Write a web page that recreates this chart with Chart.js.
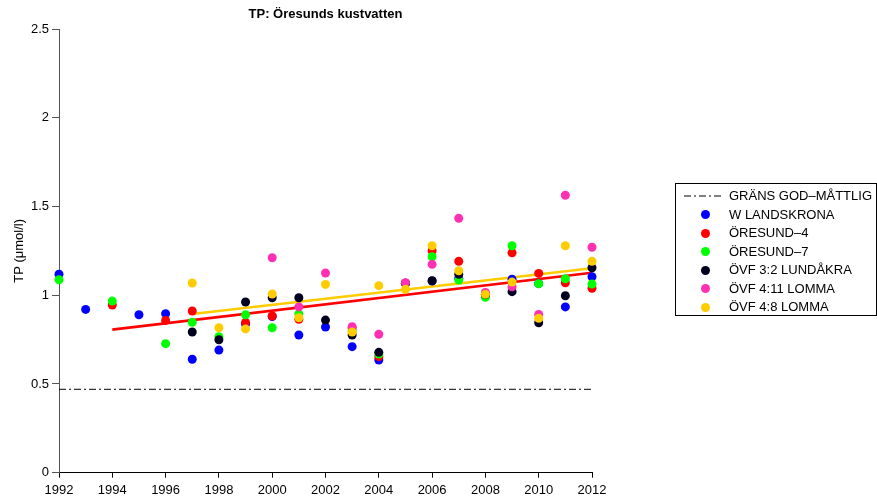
<!DOCTYPE html>
<html>
<head>
<meta charset="utf-8">
<script src="https://cdn.jsdelivr.net/npm/chart.js@4.4.0/dist/chart.umd.min.js"></script>
<style>
  body { margin: 0; background: #fff; font-family: 'Liberation Sans', Arial, sans-serif; }
  #wrap { position: relative; width: 877px; height: 502px; }
  #legend {
    position: absolute; left: 675px; top: 183px; width: 200px; height: 128px;
    border: 1px solid #000; padding-top: 3px; box-sizing: content-box; font-size: 13px; color: #000;
  }
  #legend .row { position: relative; height: 18.5px; line-height: 18.5px; white-space: nowrap; }
  #legend .row span.txt { position: absolute; left: 53px; }
  #legend .dot { position: absolute; left: 24.5px; top: 4.75px; width: 9px; height: 9px; border-radius: 50%; }
  #legend svg { position: absolute; left: 7px; top: 0; }
</style>
</head>
<body>
<div id="wrap">
  <canvas id="tpChart" width="877" height="502"></canvas>
  <div id="legend"></div>
</div>
<script>
// years on the x axis
const years = [1992, 1993, 1994, 1995, 1996, 1997, 1998, 1999, 2000, 2001, 2002,
               2003, 2004, 2005, 2006, 2007, 2008, 2009, 2010, 2011, 2012];

const seriesNames = ['W LANDSKRONA', 'ÖRESUND–4', 'ÖRESUND–7', 'ÖVF 3:2 LUNDÅKRA', 'ÖVF 4:11 LOMMA', 'ÖVF 4:8 LOMMA'];
const seriesColors = ['#0000ff', '#ff0000', '#00ff00', '#00001e', '#ff30b4', '#ffcc00'];

// TP values per station (null = no sample that year)
const wLandskrona = [1.118, 0.92, null, 0.89, 0.896, 0.639, 0.691, 0.838, 0.88, 0.776, 0.821,
                     0.71, 0.635, 1.068, 1.08, 1.095, 1.003, 1.09, 1.065, 0.934, 1.104];
const oresund4 = [null, null, 0.945, null, 0.858, 0.911, null, 0.847, 0.883, 0.864, null,
                  0.815, 0.654, 1.066, 1.251, 1.191, 1.003, 1.239, 1.123, 1.07, 1.039];
const oresund7 = [1.087, null, 0.967, null, 0.727, 0.847, 0.766, 0.89, 0.817, 0.894, null,
                  0.80, 0.669, 1.068, 1.217, 1.086, 0.988, 1.279, 1.065, 1.093, 1.063];
const ovf32 = [null, null, null, null, null, 0.793, 0.749, 0.962, 0.986, 0.986, 0.86,
               0.776, 0.678, 1.068, 1.082, 1.118, 1.003, 1.02, 0.845, 0.997, 1.155];
const ovf411 = [null, null, null, null, null, null, null, null, 1.211, 0.934, 1.125,
                0.823, 0.78, 1.07, 1.174, 1.433, 1.016, 1.048, 0.892, 1.563, 1.27];
const ovf48 = [null, null, null, null, null, 1.069, 0.817, 0.81, 1.007, 0.873, 1.061,
               0.793, 1.054, 1.033, 1.279, 1.138, 1.005, 1.074, 0.87, 1.279, 1.191];
const seriesValues = [wLandskrona, oresund4, oresund7, ovf32, ovf411, ovf48];

// trend lines and the good/moderate limit
const redTrendYears = [1994, 2012];
const redTrendValues = [0.806, 1.127];
const yellowTrendYears = [1997, 2012];
const yellowTrendValues = [0.894, 1.152];
const limitYears = [1992, 2012];
const limitValue = 0.47;
const limitLabel = 'GRÄNS GOD–MÅTTLIG';

const xTicks = [1992, 1994, 1996, 1998, 2000, 2002, 2004, 2006, 2008, 2010, 2012];
const yTicks = [0, 0.5, 1, 1.5, 2, 2.5];

Chart.defaults.font.family = "'Liberation Sans', Arial, sans-serif";
Chart.defaults.font.size = 13;
Chart.defaults.color = '#000';

const toPoints = (xs, ys) => xs.map((x, i) => ({ x: x, y: ys[i] })).filter(p => p.y !== null);

const scatterSets = seriesNames.map((name, i) => ({
    label: name,
    data: toPoints(years, seriesValues[i]),
    showLine: false,
    backgroundColor: seriesColors[i],
    borderWidth: 0,
    pointRadius: 4.5,
    clip: false,
    order: seriesNames.length - i // later stations drawn on top
}));

const lineSets = [{
    label: limitLabel,
    data: toPoints(limitYears, limitYears.map(() => limitValue)),
    showLine: true,
    borderColor: '#000',
    borderWidth: 1,
    borderDash: [7, 3, 2, 3],
    pointRadius: 0,
    order: 20
}, {
    label: 'trend ÖRESUND–4',
    data: toPoints(redTrendYears, redTrendValues),
    showLine: true,
    borderColor: '#ff0000',
    borderWidth: 2.6,
    pointRadius: 0,
    order: 19
}, {
    label: 'trend ÖVF 4:8',
    data: toPoints(yellowTrendYears, yellowTrendValues),
    showLine: true,
    borderColor: '#ffcc00',
    borderWidth: 2.6,
    pointRadius: 0,
    order: 18
}];

new Chart(document.getElementById('tpChart'), {
    type: 'scatter',
    data: { datasets: [...lineSets, ...scatterSets] },
    options: {
        responsive: false,
        animation: false,
        devicePixelRatio: 1,
        layout: { padding: { left: 0, right: 285, top: 0, bottom: 0 } },
        plugins: {
            legend: { display: false },
            tooltip: { enabled: false },
            title: {
                display: true,
                text: 'TP: Öresunds kustvatten',
                fullSize: false,
                font: { size: 13, weight: 'bold' },
                padding: { top: 7, bottom: 6.4 }
            }
        },
        scales: {
            x: {
                type: 'linear',
                min: 1992,
                max: 2012,
                afterBuildTicks: s => { s.ticks = xTicks.map(v => ({ value: v })); },
                ticks: { padding: 5, callback: v => String(v), maxRotation: 0 },
                grid: { drawOnChartArea: false, tickLength: 5, color: '#000' },
                border: { color: '#000', width: 1 },
                afterFit: s => { s.height = 29.3; }
            },
            y: {
                min: 0,
                max: 2.5,
                afterBuildTicks: s => { s.ticks = yTicks.map(v => ({ value: v })); },
                ticks: { padding: 3, callback: v => String(v) },
                grid: { drawOnChartArea: false, tickLength: 7, color: '#555' },
                border: { color: '#555', width: 1 },
                title: { display: true, text: 'TP (μmol/l)', padding: { top: 12, bottom: 0 } },
                afterFit: s => { s.width = 59; }
            }
        }
    }
});

// legend box on the right
const legend = document.getElementById('legend');
let html = '<div class="row"><svg width="42" height="18"><line x1="1" y1="9" x2="41" y2="9" stroke="#000" stroke-width="1" stroke-dasharray="7 3 2 3"/></svg><span class="txt">' + limitLabel + '</span></div>';
seriesNames.forEach((name, i) => {
    html += '<div class="row"><span class="dot" style="background:' + seriesColors[i] + '"></span><span class="txt">' + name + '</span></div>';
});
legend.innerHTML = html;
</script>
</body>
</html>
